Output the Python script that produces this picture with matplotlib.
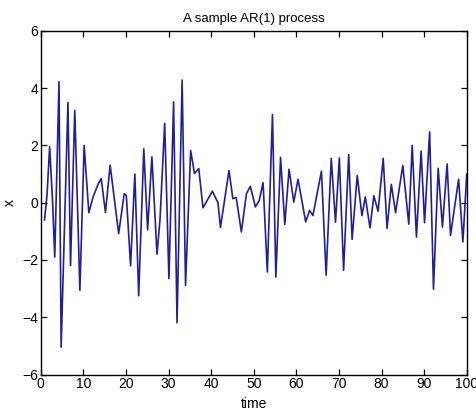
import matplotlib
matplotlib.use("Agg")
import matplotlib.pyplot as plt

plt.rcParams['font.family'] = ['Liberation Sans', 'DejaVu Sans']

# sample times and values of the simulated AR(1) series
time = [0.9, 1.5, 2.1, 2.5, 2.8, 3.3, 4.3, 4.8, 6.4, 7.0, 8.0, 9.2, 10.2, 11.3,
        12.3, 13.5, 14.2, 15.2, 16.3, 18.3, 19.6, 20.1, 21.1, 22.1, 23.0, 24.2,
        25.1, 26.1, 27.3, 28.0, 29.1, 30.1, 31.2, 32.0, 33.2, 34.0, 35.2, 36.1,
        37.1, 38.1, 40.3, 41.6, 42.2, 44.2, 45.1, 45.9, 47.1, 48.3, 49.2, 50.4,
        51.3, 52.2, 53.2, 54.4, 55.2, 56.3, 57.3, 58.3, 59.4, 60.4, 62.2, 63.1,
        63.9, 65.9, 67.0, 68.2, 69.2, 70.1, 71.1, 72.3, 73.1, 74.3, 75.4, 76.2,
        77.3, 78.2, 79.2, 80.4, 81.3, 82.3, 83.3, 85.0, 86.4, 87.2, 88.2, 89.3,
        90.1, 91.3, 92.2, 93.3, 94.3, 95.4, 96.2, 98.1, 99.1, 100.0]
x = [-0.6, 0.3, 1.95, 0.85, 0.0, -1.9, 4.22, -5.04, 3.5, -2.2, 3.22, -3.06, 2.0, -0.35,
     0.2, 0.65, 0.84, -0.34, 1.31, -1.08, 0.31, 0.25, -2.2, 1.0, -3.25, 1.88,
     -0.95, 1.6, -1.8, -0.6, 2.77, -2.65, 3.52, -4.19, 4.28, -2.88, 1.82, 1.02,
     1.19, -0.18, 0.4, 0.0, -0.86, 1.12, 0.14, 0.18, -1.02, 0.32, 0.57, -0.15,
     0.08, 0.7, -2.42, 3.08, -2.59, 1.58, -0.76, 1.17, 0.02, 0.82, -0.67, -0.27,
     -0.45, 1.1, -2.53, 1.55, -0.68, 1.56, -2.36, 1.68, -1.28, 0.95, -0.45, 0.2,
     -0.88, 0.24, -0.3, 1.55, -0.9, 0.64, -0.35, 1.3, -0.75, 2.0, -1.2, 1.8,
     -0.7, 2.47, -3.02, 1.2, -0.85, 1.35, -1.14, 0.82, -1.37, 1.0]

xticks = list(range(0, 101, 10))
yticks = list(range(-6, 7, 2))

fig = plt.figure(figsize=(4.76, 4.11), dpi=100)
ax = fig.add_axes([0.0855, 0.0886, 0.895, 0.8365])
ax.plot(time, x, color='#1f1f9e', linewidth=1.2)

ax.set_xlim(0, 100)
ax.set_ylim(-6, 6)
ax.set_xticks(xticks)
ax.set_yticks(yticks)
ax.tick_params(direction='in', top=True, right=True, length=4, width=0.9,
               labelsize=10, pad=2, colors='black')
for s in ax.spines.values():
    s.set_linewidth(1.0)

ax.set_title('A sample AR(1) process', fontsize=9.5, pad=6)
ax.set_xlabel('time', fontsize=10, labelpad=4)
ax.set_ylabel('x', fontsize=10, labelpad=4)

fig.savefig('out.png', dpi=100)
